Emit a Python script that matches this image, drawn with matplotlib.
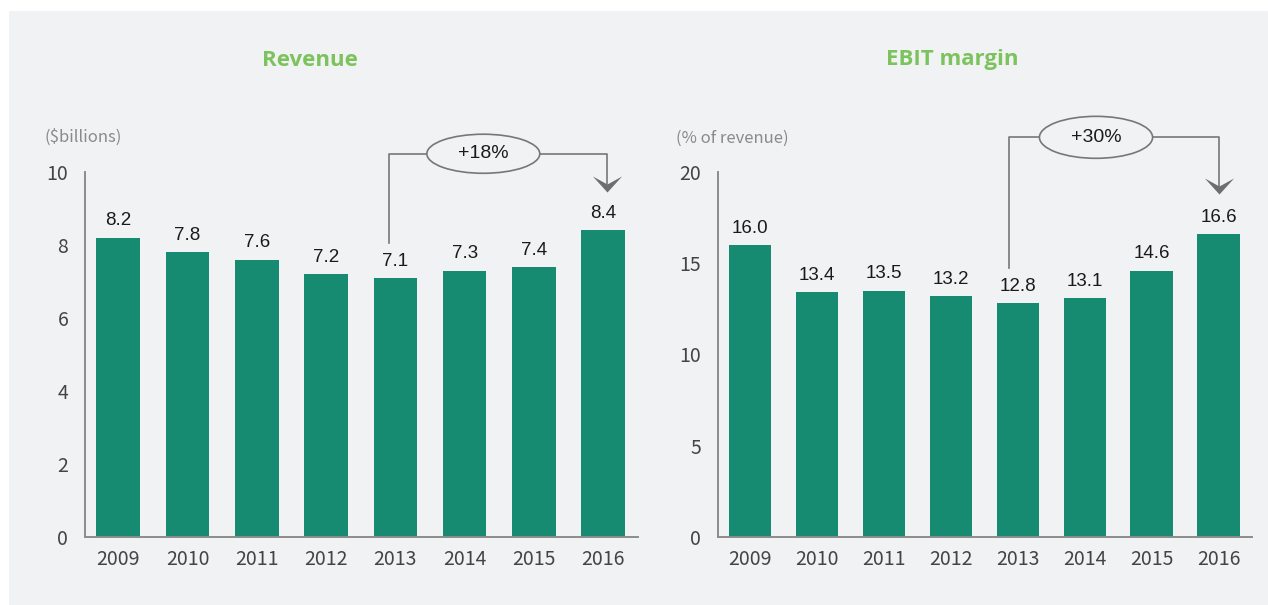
import matplotlib
matplotlib.use("Agg")
import matplotlib.pyplot as plt
from matplotlib.patches import Ellipse, Rectangle
from matplotlib.path import Path

years = ["2009", "2010", "2011", "2012", "2013", "2014", "2015", "2016"]
revenue = [8.2, 7.8, 7.6, 7.2, 7.1, 7.3, 7.4, 8.4]
ebit_margin = [16.0, 13.4, 13.5, 13.2, 12.8, 13.1, 14.6, 16.6]
revenue_change = "+18%"
ebit_change = "+30%"

BG = "#f1f2f4"
BAR = "#168b71"
GREEN = "#7cc35e"
LINE = "#777777"

tick_font = dict(family=["Noto Sans CJK SC", "DejaVu Sans"], weight="light")

fig = plt.figure(figsize=(12.68, 6.05), dpi=100)
fig.patch.set_facecolor("white")
fig.patches.append(Rectangle((9 / 1268, 0), 1, 1 - 11 / 605, transform=fig.transFigure,
                             facecolor=BG, edgecolor="none", zorder=-10))

ax1 = fig.add_axes([0.067, 0.1124, 0.436, 0.6033])
ax2 = fig.add_axes([0.566, 0.1124, 0.4214, 0.6033])

chevron = Path([(-1, 0.55), (0, -0.55), (1, 0.55), (0, 0.0), (-1, 0.55)],
               [Path.MOVETO, Path.LINETO, Path.LINETO, Path.LINETO, Path.CLOSEPOLY])


def draw_panel(ax, values, ymax, step, xlim):
    x = range(len(values))
    ax.bar(x, values, width=0.63, color=BAR, zorder=2)
    ax.set_facecolor("none")
    ax.set_xlim(*xlim)
    ax.set_ylim(0, ymax)
    ax.set_yticks(range(0, ymax + 1, step))
    ax.set_xticks(list(x))
    ax.set_xticklabels(years)
    for s in ["top", "right"]:
        ax.spines[s].set_visible(False)
    for s in ["left", "bottom"]:
        ax.spines[s].set_color("#8c8c8c")
        ax.spines[s].set_linewidth(1.4)
    ax.tick_params(axis="both", length=0, labelsize=14, colors="#444444")
    ax.tick_params(axis="y", pad=12)
    ax.tick_params(axis="x", pad=9)
    for lab in ax.get_xticklabels() + ax.get_yticklabels():
        lab.set_fontfamily(tick_font["family"])
        lab.set_fontweight(tick_font["weight"])
    for i, v in enumerate(values):
        ax.annotate(f"{v:.1f}", (i, v), xytext=(0, 6), textcoords="offset points",
                    ha="center", va="bottom", fontsize=13.5, family="Liberation Sans",
                    color="#1a1a1a")


def draw_change(ax, x0, x1, ybot, yh, ytip, ecx, ew, eh, label):
    ax.plot([x0, x0, x1, x1], [ybot, yh, yh, ytip], color=LINE, lw=1.2,
            clip_on=False, zorder=3)
    ax.add_patch(Ellipse((ecx, yh), ew, eh, facecolor=BG, edgecolor=LINE, lw=1.2,
                         clip_on=False, zorder=4))
    ax.text(ecx, yh, label, ha="center", va="center", fontsize=14,
            family="Liberation Sans", color="#1a1a1a", zorder=5, clip_on=False)
    ax.plot([x1], [ytip], marker=chevron, markersize=21, color="#6e6e6e",
            markeredgewidth=0, clip_on=False, zorder=5)


draw_panel(ax1, revenue, 10, 2, (-0.48, 7.5))
draw_panel(ax2, ebit_margin, 20, 5, (-0.48, 7.5))

draw_change(ax1, 3.91, 7.06, 8.05, 10.5, 9.67, 5.27, 1.63, 1.07, revenue_change)
draw_change(ax2, 3.87, 7.0, 14.75, 21.9, 19.23, 5.17, 1.69, 2.3, ebit_change)

fig.text(310 / 1268, 1 - 60 / 605, "Revenue", ha="center", va="center",
         fontsize=16, fontweight="bold", family="Open Sans", color=GREEN)
fig.text(952 / 1268, 1 - 60 / 605, "EBIT margin", ha="center", va="center",
         fontsize=16, fontweight="bold", family="Open Sans", color=GREEN)

fig.text(44 / 1268, 1 - 137 / 605, "($billions)", ha="left", va="center",
         fontsize=12, family=tick_font["family"], weight="light", color="#8a8a8a")
fig.text(676 / 1268, 1 - 138 / 605, "(% of revenue)", ha="left", va="center",
         fontsize=12, family=tick_font["family"], weight="light", color="#8a8a8a")

fig.savefig("out.png", dpi=100, facecolor=fig.get_facecolor())
